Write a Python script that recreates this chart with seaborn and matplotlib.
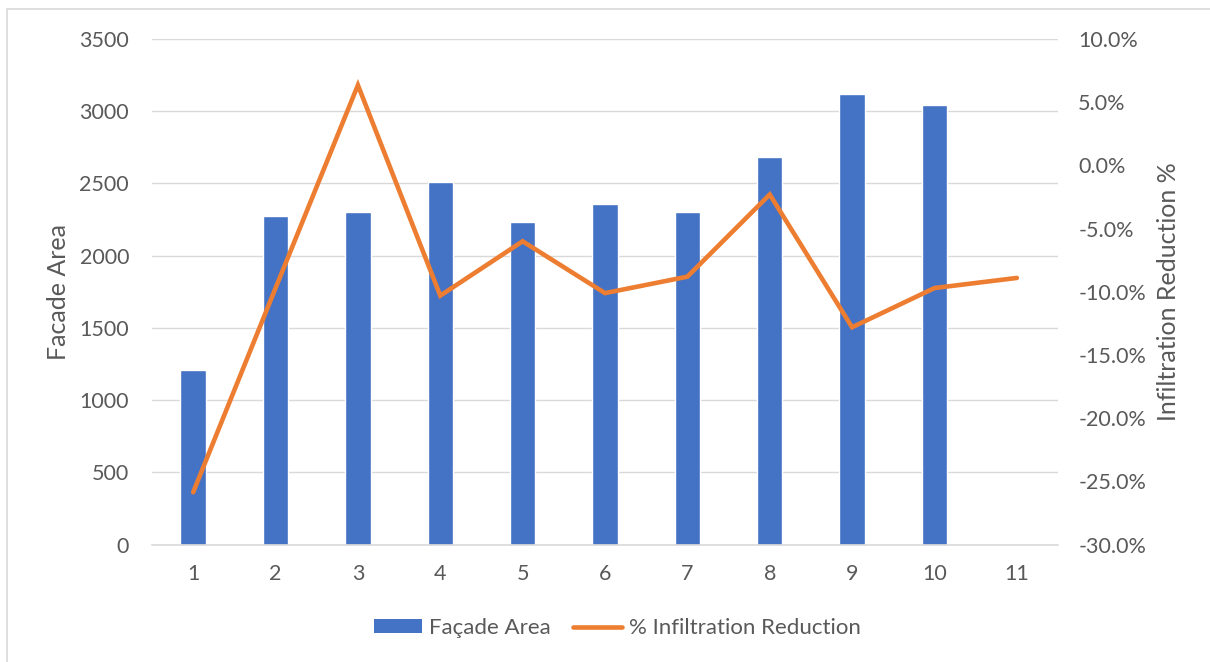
import numpy as np
import pandas as pd
import matplotlib
matplotlib.use("Agg")
import matplotlib.pyplot as plt
from matplotlib.lines import Line2D
from matplotlib.patches import Patch
from matplotlib.ticker import FuncFormatter, MultipleLocator
import seaborn as sns

# Data
categories = ["1", "2", "3", "4", "5", "6", "7", "8", "9", "10", "11"]
facade_area = [1210, 2275, 2305, 2508, 2231, 2358, 2305, 2685, 3119, 3041]
infiltration_reduction = [-25.85, -9.7, 6.35, -10.3, -6.0, -10.1, -8.8, -2.3, -12.8, -9.7, -8.9]

BLUE = "#4472C4"
ORANGE = "#ED7D31"
GRID = "#D9D9D9"
TEXT = "#595959"

sns.set_theme(style="white")
plt.rcParams["font.family"] = ["Lato", "DejaVu Sans"]

fig = plt.figure(figsize=(12.10, 6.62), dpi=100)
ax = fig.add_axes([152 / 1210, 1 - 544.7 / 662, (1058 - 152) / 1210, (544.7 - 39) / 662])

bars_df = pd.DataFrame({"cat": categories[:len(facade_area)], "area": facade_area})
sns.barplot(data=bars_df, x="cat", y="area", order=categories, color=BLUE,
            saturation=1, width=0.31, ax=ax, zorder=2)

ax.set_ylim(0, 3500)
ax.yaxis.set_major_locator(MultipleLocator(500))
ax.set_xlim(-0.5, len(categories) - 0.5)
ax.grid(axis="y", color=GRID, linewidth=1.0, zorder=0)
ax.set_axisbelow(True)
for s in ["top", "right", "left"]:
    ax.spines[s].set_visible(False)
ax.spines["bottom"].set_color(GRID)
ax.spines["bottom"].set_linewidth(1.2)
ax.tick_params(axis="both", length=0, colors=TEXT, labelsize=15.5)
ax.tick_params(axis="y", pad=16.5)
ax.tick_params(axis="x", pad=14)
ax.set_xlabel("")
ax.set_ylabel("Facade Area", fontsize=18, color=TEXT, labelpad=7)

ax2 = ax.twinx()
line_df = pd.DataFrame({"pos": np.arange(len(categories)), "pct": infiltration_reduction})
sns.lineplot(data=line_df, x="pos", y="pct", color=ORANGE, linewidth=3.3,
             ax=ax2, solid_capstyle="round", solid_joinstyle="miter", zorder=3)
ax2.set_ylim(-30, 10)
ax2.yaxis.set_major_locator(MultipleLocator(5))
ax2.yaxis.set_major_formatter(FuncFormatter(lambda v, p: f"{v:.1f}%"))
for s in ax2.spines.values():
    s.set_visible(False)
ax2.tick_params(axis="y", length=0, colors=TEXT, labelsize=15.5, pad=14.5)
ax2.set_ylabel("Infiltration Reduction %", fontsize=18, color=TEXT, labelpad=8)
ax2.grid(False)
ax2.set_xlim(-0.5, len(categories) - 0.5)

handles = [Patch(facecolor=BLUE, edgecolor="none"),
           Line2D([0], [0], color=ORANGE, linewidth=3.3, solid_capstyle="round")]
fig.legend(handles, ["Façade Area", "% Infiltration Reduction"], loc="center",
           bbox_to_anchor=(617 / 1210, 1 - 628 / 662), ncol=2, frameon=False,
           fontsize=16, labelcolor=TEXT, handlelength=2.2, handletextpad=0.3,
           columnspacing=1.0, handleheight=0.6)

# chart border
fig.add_artist(Line2D([6.5 / 1210, 6.5 / 1210], [0, 1 - 9 / 662], transform=fig.transFigure,
                      color=GRID, linewidth=1.2))
fig.add_artist(Line2D([6.5 / 1210, 1], [1 - 9 / 662, 1 - 9 / 662], transform=fig.transFigure,
                      color=GRID, linewidth=1.2))

fig.savefig("out.png", dpi=100, facecolor="white")
